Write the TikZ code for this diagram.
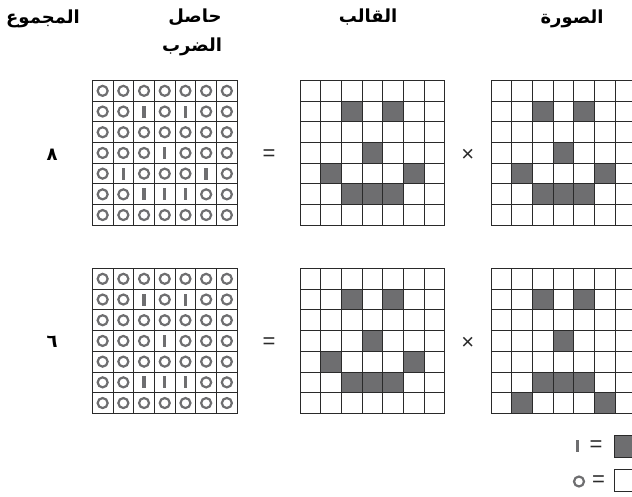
\documentclass[tikz,border=0pt]{standalone}
\usepackage{fontspec}
\newfontfamily\arabicfont[Script=Arabic]{DejaVu Sans}
\newfontfamily\opfont{Liberation Sans}
\TeXXeTstate=1
\definecolor{cellgray}{HTML}{6E6E70}
\definecolor{linegray}{HTML}{2A2A2A}
\newcommand{\cellsz}{20.7}
\newcommand{\smileA}{{0,0,0,0,0,0,0},{0,0,1,0,1,0,0},{0,0,0,0,0,0,0},{0,0,0,1,0,0,0},{0,1,0,0,0,1,0},{0,0,1,1,1,0,0},{0,0,0,0,0,0,0}}
\newcommand{\smileB}{{0,0,0,0,0,0,0},{0,0,1,0,1,0,0},{0,0,0,0,0,0,0},{0,0,0,1,0,0,0},{0,0,0,0,0,0,0},{0,0,1,1,1,0,0},{0,1,0,0,0,1,0}}
\newcommand{\prodB}{{0,0,0,0,0,0,0},{0,0,1,0,1,0,0},{0,0,0,0,0,0,0},{0,0,0,1,0,0,0},{0,0,0,0,0,0,0},{0,0,1,1,1,0,0},{0,0,0,0,0,0,0}}
\newcommand{\gridlines}[2]{\foreach \k in {0,...,7}{\draw[gridline](#1+\k*\cellsz,#2)--++(0,7*\cellsz);\draw[gridline](#1,#2+\k*\cellsz)--++(7*\cellsz,0);}}
\newcommand{\patgrid}[3]{\foreach \row [count=\j from 0] in #3{\foreach \v [count=\i from 0] in \row{\ifnum\v=1 \fill[cellgray](#1+\i*\cellsz,#2+\j*\cellsz)rectangle++(\cellsz,\cellsz);\fi}}\gridlines{#1}{#2}}
\newcommand{\prodgrid}[3]{\foreach \row [count=\j from 0] in #3{\foreach \v [count=\i from 0] in \row{\ifnum\v=1 \fill[cellgray](#1+\i*\cellsz+\cellsz/2-1.7,#2+\j*\cellsz+\cellsz/2-6)rectangle++(3.4,12);\else\draw[ring](#1+\i*\cellsz+\cellsz/2,#2+\j*\cellsz+\cellsz/2)circle[radius=5pt];\fi}}\gridlines{#1}{#2}}

\begin{document}
\begin{tikzpicture}[x=1pt,y=-1pt,
  gridline/.style={linegray,line width=1pt,line cap=rect},
  ring/.style={cellgray,line width=2.2pt},
  head/.style={inner sep=0,font=\arabicfont\bfseries\fontsize{18}{20}\selectfont},
  num/.style={inner sep=0,font=\arabicfont\bfseries\fontsize{18}{20}\selectfont},
  op/.style={inner sep=0,text=linegray,font=\opfont\fontsize{22}{24}\selectfont}]
\useasboundingbox(0,0)rectangle(632,497);
\node[head](hsum)at(43,19){\beginR المجموع\endR};
\node[head](hprodA)at(195,17){\beginR حاصل\endR};\node[head](hprodB)at(192,47){\beginR الضرب\endR};
\node[head](htpl)at(368,17){\beginR القالب\endR};
\node[head](himg)at(572,19){\beginR الصورة\endR};
\prodgrid{92.3}{80.5}{\smileA}\patgrid{300}{80.5}{\smileA}\patgrid{491}{80.5}{\smileA}
\prodgrid{92.3}{268.5}{\prodB}\patgrid{300}{268.5}{\smileA}\patgrid{491}{268.5}{\smileB}
\node[num](sumA)at(52,155){\beginR ٨\endR};\node[num](sumB)at(52,342){\beginR ٦\endR};
\node[op](eqA)at(269,155.5){=};\node[op](timesA)at(467.7,155.5){×};
\node[op](eqB)at(269,343.5){=};\node[op](timesB)at(467.7,343.5){×};
\fill[cellgray](576,440)rectangle++(3.4,12);\node[op](legA)at(596,446){=};
\filldraw[fill=cellgray,draw=linegray,line width=1pt](614.5,435)rectangle(636,457);
\draw[ring](579,481.5)circle[radius=5pt];\node[op](legB)at(598.5,481.5){=};
\draw[gridline](614.5,469)rectangle(636,491);
\end{tikzpicture}
\end{document}
